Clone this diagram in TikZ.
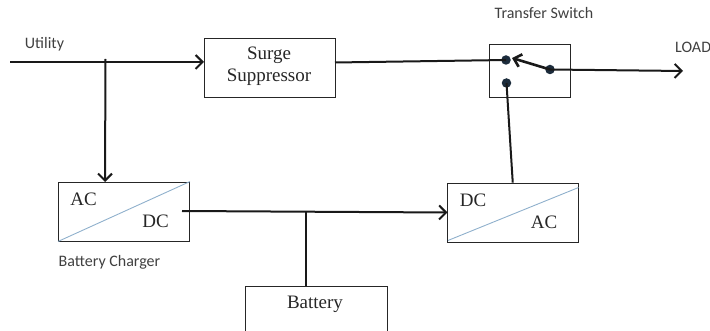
\documentclass[tikz,border=0pt]{standalone}
\usepackage{fontspec}
\setmainfont{Liberation Serif}
\newfontfamily\labelfont{Carlito}
\usetikzlibrary{arrows.meta,calc}
\definecolor{splitblue}{HTML}{8FB0CC}
\definecolor{contactblue}{HTML}{1C2C3C}
\tikzset{
  blockbox/.style={draw=black!85,line width=0.9pt,rectangle,inner sep=0pt},
  blocktext/.style={inner sep=0pt,font=\fontsize{19}{22}\selectfont,text=black!85,align=center},
  caption/.style={inner sep=0pt,font=\labelfont\fontsize{16}{18}\selectfont,text=black!75},
  wire/.style={line width=2pt,black!90},
  arrowwire/.style={wire,-{Straight Barb[length=7pt,width=14pt,line width=2pt]}},
  contact/.style={circle,fill=contactblue,inner sep=0pt,minimum size=9.5pt},
  splitline/.style={line width=0.9pt,color=splitblue},
}
\begin{document}
\begin{tikzpicture}[x=1pt,y=-1pt]
\useasboundingbox (0,0) rectangle (710,331);
% blocks
\node[blockbox,minimum width=131pt,minimum height=59pt] (surge) at (269.5,67.5) {};
\node[blockbox,minimum width=80.5pt,minimum height=53pt] (switch) at (529.75,70.5) {};
\node[blockbox,minimum width=131pt,minimum height=59pt] (charger) at (124,211.5) {};
\node[blockbox,minimum width=130.5pt,minimum height=59pt] (inverter) at (512.75,212.5) {};
\node[blockbox,minimum width=142pt,minimum height=60pt] (battery) at (316,316) {};
% conversion diagonals
\draw[splitline] (charger.south west) -- (charger.north east);
\draw[splitline] ($(inverter.south west)+(1,-2)$) -- ($(inverter.north east)+(0,5)$);
% texts
\node[blocktext] (tsurge) at (269,66.5) {Surge\\Suppressor};
\node[blocktext] (tac1) at (83.5,199.5) {AC};
\node[blocktext] (tdc1) at (155.5,221.5) {DC};
\node[blocktext] (tdc2) at (473,200.5) {DC};
\node[blocktext] (tac2) at (544,222.5) {AC};
\node[blocktext] (tbat) at (315,304) {Battery};
\node[caption] (lutil) at (44.5,44) {Utility};
\node[caption] (ltrans) at (544,13) {Transfer Switch};
\node[caption,anchor=west] (lload) at (675,47) {LOAD};
\node[caption,anchor=west] (lchg) at (58.5,262) {Battery Charger};
% contacts
\node[contact] (c1) at (506,60) {};
\node[contact] (c2) at (506.5,83) {};
\node[contact] (c3) at (550,69.5) {};
% helpers
\coordinate (in) at (10,62);
\coordinate (j1) at (105.5,59);
\coordinate (surgein) at (204,62);
\coordinate (surgeout) at (335,62.5);
\coordinate (chgtop) at (105,182);
\coordinate (out) at (683,71);
\coordinate (chgout) at (182,211);
\coordinate (invin) at (447.5,212.5);
\coordinate (j2) at (306,212);
\coordinate (battop) at (306,286);
\coordinate (swtip) at (512,58);
% wires
\draw[arrowwire] (in) -- (surgein);
\draw[arrowwire] (j1) -- (chgtop);
\draw[wire] (surgeout) -- (c1.center);
\draw[wire] (inverter.north) -- (c2.center);
\draw[arrowwire] (chgout) -- (invin);
\draw[wire] (j2) -- (battop);
\draw[arrowwire] (c3.center) -- (out);
\draw[wire,line width=2.6pt,-{Straight Barb[length=7pt,width=13pt,line width=2.6pt]}] (c3.center) -- (swtip);
\end{tikzpicture}
\end{document}
